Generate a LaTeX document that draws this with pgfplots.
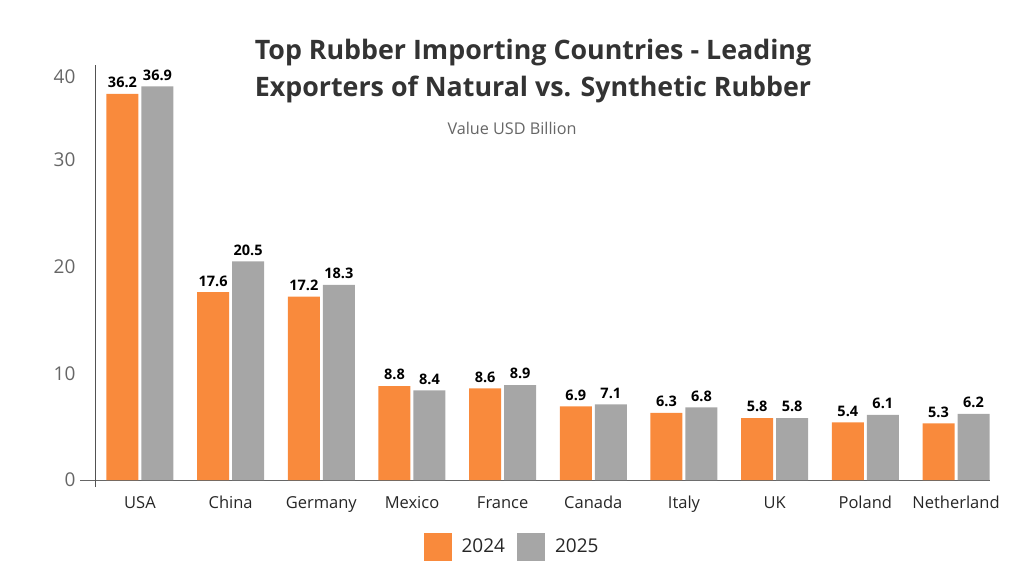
\documentclass[border=0pt]{standalone}
\usepackage{pgfplots}
\pgfplotsset{compat=1.18}
\usepackage{fontspec}
\setmainfont{Open Sans}
\definecolor{borange}{HTML}{F98A3C}
\definecolor{bgray}{HTML}{A6A6A6}
\definecolor{titlec}{HTML}{333333}
\definecolor{tickc}{HTML}{666666}
\begin{document}
\begin{tikzpicture}
\begin{axis}[
  scale only axis,
  width=895pt, height=415pt,
  ybar=3pt, bar width=32pt,
  xmin=-0.496, xmax=9.375,
  ymin=0, ymax=38.9,
  axis x line*=bottom, axis y line*=left,
  x axis line style={draw=tickc, line width=1pt, shorten <=-15pt, -},
  y axis line style={draw=tickc!80!black, line width=1pt, shorten <=-7pt, -},
  xtick=data,
  xticklabels={USA,China,Germany,Mexico,France,Canada,Italy,UK,Poland,Netherland},
  ytick={0,10,20,30},
  extra y ticks={37.8}, extra y tick labels={40},
  extra y tick style={major tick length=0pt},
  major tick length=0pt,
  /pgf/number format/assume math mode=true,
  yticklabel style={font=\fontsize{19pt}{20pt}\selectfont, text=tickc, xshift=-16pt},
  xticklabel style={font=\fontsize{16.5pt}{18pt}\selectfont, text=black!85, text height=12pt, text depth=4pt, yshift=-13pt},
  nodes near coords={\pgfmathprintnumber[fixed,fixed zerofill,precision=1,assume math mode=true]{\pgfplotspointmeta}},
  every node near coord/.append style={font=\bfseries\fontsize{14.5pt}{15pt}\selectfont, text=black, yshift=2.5pt},
  legend style={at={(0.466,-0.161)}, anchor=center, draw=none, fill=none,
    legend columns=2, font=\fontsize{19pt}{20pt}\selectfont, text=black!85,
    /tikz/every odd column/.append style={column sep=8pt},
    /tikz/every even column/.append style={column sep=10pt}},
  legend image code/.code={\fill[#1] (0pt,-14pt) rectangle (28pt,14pt);},
  clip=false,
]
\addplot[fill=borange, draw=none] coordinates {(0,36.2) (1,17.6) (2,17.2) (3,8.8) (4,8.6) (5,6.9) (6,6.3) (7,5.8) (8,5.4) (9,5.3)};
\addplot[fill=bgray, draw=none] coordinates {(0,36.9) (1,20.5) (2,18.3) (3,8.4) (4,8.9) (5,7.1) (6,6.8) (7,5.8) (8,6.1) (9,6.2)};
\legend{2024,2025}
\end{axis}
\node[font=\bfseries\fontsize{26.8pt}{37pt}\selectfont, text=titlec, align=center] at ([shift={(438pt,409pt)}]current axis.south west) {Top Rubber Importing Countries - Leading\\Exporters of Natural vs. Synthetic Rubber};
\node[font=\fontsize{16.2pt}{17pt}\selectfont, text=tickc] at ([shift={(417pt,352pt)}]current axis.south west) {Value USD Billion};
\path[use as bounding box] ([shift={(-95pt,-96pt)}]current axis.south west) rectangle ([shift={(929pt,480pt)}]current axis.south west);
\end{tikzpicture}
\end{document}
